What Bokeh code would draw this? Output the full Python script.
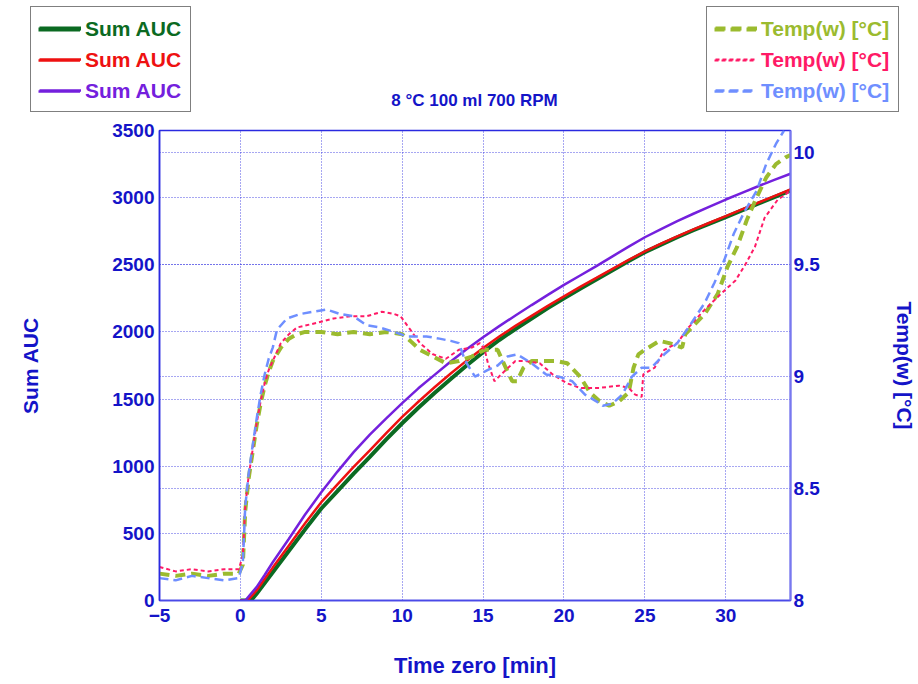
from bokeh.plotting import figure
from bokeh.models import Range1d, LinearAxis, Grid, FixedTicker, Legend, LegendItem, Label
from bokeh.layouts import column, row
from bokeh.core.properties import value
from bokeh.embed import file_html
from bokeh.resources import INLINE

# ---------------- data ----------------
x_ticks = [-5, 0, 5, 10, 15, 20, 25, 30]
auc_ticks = [0, 500, 1000, 1500, 2000, 2500, 3000, 3500]
temp_ticks = [8, 8.5, 9, 9.5, 10]
temp_tick_labels = {8: "8", 8.5: "8.5", 9: "9", 9.5: "9.5", 10: "10"}

auc_green_t = [0, 0.65, 1, 1.5, 2, 3, 4, 5, 6, 7, 8, 9, 10, 11, 12, 13, 14, 15, 16, 17, 18, 19, 20,
               21, 22, 23, 24, 25, 26, 27, 28, 29, 30, 31, 32, 33, 34]
auc_green_v = [0, 0, 50, 130, 210, 370, 530, 685, 815, 945, 1070, 1198, 1320, 1435, 1545, 1650,
               1752, 1849, 1940, 2022, 2100, 2177, 2250, 2322, 2390, 2460, 2528, 2594, 2650, 2705,
               2757, 2807, 2855, 2905, 2955, 3004, 3053]

auc_red_t = [0, 0.45, 1, 1.5, 2, 3, 4, 5, 6, 7, 8, 9, 10, 11, 12, 13, 14, 15, 16, 17, 18, 19, 20,
             21, 22, 23, 24, 25, 26, 27, 28, 29, 30, 31, 32, 33, 34]
auc_red_v = [0, 0, 75, 160, 245, 410, 575, 732, 865, 995, 1118, 1245, 1368, 1480, 1588, 1690,
             1788, 1880, 1966, 2045, 2120, 2194, 2265, 2335, 2402, 2470, 2536, 2600, 2657, 2711,
             2763, 2813, 2862, 2912, 2962, 3012, 3062]

auc_purple_t = [0, 0.3, 1, 1.5, 2, 3, 4, 5, 6, 7, 8, 9, 10, 11, 12, 13, 14, 15, 16, 17, 18, 19, 20,
                21, 22, 23, 24, 25, 26, 27, 28, 29, 30, 31, 32, 33, 34]
auc_purple_v = [0, 0, 100, 190, 285, 460, 640, 806, 960, 1105, 1235, 1355, 1470, 1580, 1680, 1780,
                1872, 1961, 2043, 2122, 2200, 2276, 2350, 2420, 2490, 2563, 2635, 2705, 2766, 2825,
                2880, 2933, 2986, 3036, 3085, 3132, 3178]

tw_green_t = [-5, -4, -3, -2, -1, -0.1, 0.15, 0.3, 0.5, 0.75, 1.0, 1.25, 1.5, 1.75, 2.0, 2.5, 3.0,
              3.5, 4, 5, 6, 7, 8, 9, 10, 10.5, 11.1, 11.9, 12.7, 13.5, 14.3, 15.1, 15.9, 16.4,
              16.8, 17.1, 17.5, 18.0, 18.9, 19.5, 20.2, 21.0, 21.6, 22.2, 22.8, 23.4, 24.0, 24.3,
              24.6, 25.0, 25.9, 26.5, 27.3, 27.5, 28.7, 29.5, 30.1, 30.7, 31.3, 31.9, 32.5, 33.1,
              33.7, 34]
tw_green_v = [8.12, 8.11, 8.12, 8.11, 8.12, 8.12, 8.16, 8.40, 8.54, 8.66, 8.78, 8.88, 8.96, 9.02,
              9.07, 9.13, 9.17, 9.19, 9.20, 9.20, 9.19, 9.20, 9.19, 9.20, 9.19, 9.16, 9.12, 9.09,
              9.06, 9.07, 9.09, 9.12, 9.12, 9.04, 8.98, 8.98, 9.04, 9.07, 9.07, 9.07, 9.06, 9.00,
              8.93, 8.89, 8.87, 8.89, 8.93, 9.04, 9.10, 9.12, 9.16, 9.15, 9.13, 9.19, 9.28, 9.37,
              9.49, 9.58, 9.70, 9.80, 9.89, 9.95, 9.98, 9.99]

tw_pink_t = [-5, -4, -3, -2, -1, -0.1, 0.15, 0.3, 0.5, 0.75, 1.0, 1.25, 1.5, 1.75, 2.0, 2.5, 3.0,
             3.5, 4.7, 5.76, 6.8, 7.8, 8.74, 9.5, 9.9, 10.5, 11.1, 11.9, 12.7, 13.5, 14.3, 14.8,
             15.1, 15.3, 15.7, 16.4, 17.0, 17.6, 18.5, 19.3, 20.2, 21.0, 21.8, 22.2, 23.4, 24.0,
             24.4, 24.8, 24.9, 25.6, 26.2, 27.0, 27.7, 28.7, 29.7, 30.6, 31.2, 31.8, 32.4, 33.2,
             33.8, 34]
tw_pink_v = [8.15, 8.13, 8.14, 8.13, 8.14, 8.14, 8.20, 8.42, 8.55, 8.67, 8.79, 8.89, 8.97, 9.03,
             9.07, 9.15, 9.19, 9.22, 9.24, 9.26, 9.27, 9.27, 9.29, 9.28, 9.27, 9.21, 9.15, 9.10,
             9.08, 9.12, 9.13, 9.15, 9.12, 9.06, 8.98, 9.03, 9.07, 9.07, 9.06, 9.01, 8.97, 8.95,
             8.95, 8.95, 8.96, 8.95, 8.92, 8.91, 9.01, 9.04, 9.12, 9.15, 9.22, 9.30, 9.37, 9.43,
             9.50, 9.58, 9.71, 9.79, 9.82, 9.84]

tw_blue_t = [-5, -4, -3, -2, -1, -0.1, 0.15, 0.3, 0.5, 0.75, 1.0, 1.25, 1.5, 1.75, 2.0, 2.26, 2.88,
             3.7, 4.5, 5.35, 6.17, 6.99, 7.8, 8.6, 9.5, 10.3, 11.5, 12.3, 13.0, 13.5, 13.9, 14.5,
             15.3, 15.9, 16.5, 17.1, 18.0, 18.9, 19.7, 20.5, 21.3, 22.0, 22.4, 23.0, 23.6, 24.2,
             24.8, 25.4, 26.2, 27.0, 27.7, 28.7, 29.3, 29.9, 30.5, 31.1, 31.9, 32.5, 33.1, 33.6]
tw_blue_v = [8.10, 8.09, 8.11, 8.10, 8.09, 8.10, 8.17, 8.42, 8.56, 8.69, 8.81, 8.92, 9.01, 9.08,
             9.13, 9.21, 9.26, 9.28, 9.29, 9.30, 9.28, 9.27, 9.23, 9.22, 9.20, 9.18, 9.18, 9.17,
             9.16, 9.15, 9.07, 9.00, 9.03, 9.05, 9.09, 9.10, 9.06, 9.01, 9.00, 8.98, 8.92, 8.89,
             8.87, 8.88, 8.92, 9.00, 9.04, 9.04, 9.10, 9.15, 9.22, 9.33, 9.42, 9.52, 9.64, 9.73,
             9.83, 9.95, 10.04, 10.10]

auc_label = "Sum AUC"
temp_label = "Temp(w) [°C]"
x_label = "Time zero [min]"
title_text = "8 °C 100 ml 700 RPM"

# ---------------- styling ----------------
FONT = "Liberation Sans"
TXT = "#1414c8"
C_AUC = ["#0b6a22", "#ee1111", "#7420dd"]
W_AUC = [4, 2.5, 2.5]
C_TMP = ["#9bbb2f", "#ff1a66", "#6f8fff"]
W_TMP = [4, 2, 2.5]
D_TMP = ["10 6", "4 3", "9 5"]

TOP_H = 120

# ---------------- main plot ----------------
p = figure(width=918, height=684 - TOP_H, output_backend="svg", toolbar_location=None,
           x_range=Range1d(-5, 34), y_range=Range1d(0, 3500),
           min_border_left=159, min_border_right=128, min_border_top=130 - TOP_H,
           min_border_bottom=84)
p.extra_y_ranges = {"temp": Range1d(8, 10.1)}
p.background_fill_color = "white"
p.border_fill_color = "white"
p.outline_line_color = "#2a2ae0"
p.outline_line_width = 1.5

right = LinearAxis(y_range_name="temp")
p.add_layout(right, "right")

xa = p.xaxis[0]
ya = p.yaxis[0]
xa.ticker = FixedTicker(ticks=x_ticks)
ya.ticker = FixedTicker(ticks=auc_ticks)
right.ticker = FixedTicker(ticks=temp_ticks)
right.major_label_overrides = temp_tick_labels
xa.axis_label = x_label
ya.axis_label = auc_label
right.axis_label = temp_label

for ax in (xa, ya, right):
    ax.major_label_text_font = FONT
    ax.major_label_text_font_size = "19px"
    ax.major_label_text_font_style = "bold"
    ax.major_label_text_color = TXT
    ax.axis_label_text_font = FONT
    ax.axis_label_text_font_size = "21px"
    ax.axis_label_text_font_style = "bold"
    ax.axis_label_text_color = TXT
    ax.major_tick_in = 0
    ax.major_tick_out = 0
    ax.minor_tick_in = 0
    ax.minor_tick_out = 0
    ax.axis_line_width = 1.5
xa.axis_label_text_font_size = "22px"

xa.axis_line_color = "#4a4ae8"
ya.axis_line_color = "#2a2ae0"
right.axis_line_color = "#7878f0"
right.axis_line_width = 2
xa.major_label_standoff = 8
xa.axis_label_standoff = 28
ya.major_label_standoff = 5
ya.axis_label_standoff = 67
right.major_label_standoff = 3
right.axis_label_standoff = 70

GRID_C = "#3030e0"
for g in (p.xgrid[0], p.ygrid[0]):
    g.grid_line_color = GRID_C
    g.grid_line_dash = "1 2"
    g.grid_line_width = 1
    g.grid_line_alpha = 0.85
g2 = Grid(dimension=1, ticker=FixedTicker(ticks=temp_ticks), y_range_name="temp",
          grid_line_color=GRID_C, grid_line_dash="1 2", grid_line_width=1, grid_line_alpha=0.85)
p.add_layout(g2)

p.line(auc_green_t, auc_green_v, line_color=C_AUC[0], line_width=W_AUC[0])
p.line(auc_red_t, auc_red_v, line_color=C_AUC[1], line_width=W_AUC[1])
p.line(auc_purple_t, auc_purple_v, line_color=C_AUC[2], line_width=W_AUC[2])

for (tt, vv), c, w, d in zip(((tw_green_t, tw_green_v), (tw_pink_t, tw_pink_v), (tw_blue_t, tw_blue_v)),
                             C_TMP, W_TMP, D_TMP):
    p.line(tt, vv, y_range_name="temp", line_color=c, line_width=w, line_dash=d)

# ---------------- header strip: legends + title ----------------
top = figure(width=918, height=TOP_H, output_backend="svg", toolbar_location=None,
             x_range=Range1d(0, 918), y_range=Range1d(0, TOP_H),
             min_border=0, x_axis_location=None, y_axis_location=None)
top.outline_line_color = None
top.xgrid.visible = False
top.ygrid.visible = False
top.background_fill_color = "white"
top.border_fill_color = "white"

NAN = [float("nan")]
# key-only renderers for the legend swatches (they draw nothing themselves)
k_auc = [top.line(NAN, NAN, line_color=c, line_width=w) for c, w in zip(C_AUC, W_AUC)]
k_tmp = [top.line(NAN, NAN, line_color=c, line_width=w, line_dash=d)
         for c, w, d in zip(C_TMP, W_TMP, D_TMP)]


def style_legend(lg, color=None, boxed=False):
    lg.label_text_font = FONT
    lg.label_text_font_size = "21px"
    lg.label_text_font_style = "bold"
    lg.padding = 8
    lg.spacing = 5
    lg.margin = 0
    lg.glyph_width = 42
    lg.glyph_height = 26
    lg.label_height = 26
    lg.label_standoff = 5
    if boxed:
        lg.border_line_color = "black"
        lg.border_line_width = 1.5
        lg.background_fill_color = "white"
        lg.background_fill_alpha = 1
        lg.label_text_alpha = 0
    else:
        lg.border_line_alpha = 0
        lg.background_fill_alpha = 0
        lg.label_text_color = color


box_bottom = TOP_H - 112
item_bottoms = [box_bottom + 62, box_bottom + 31, box_bottom]

for x0, rends, lab, cols in ((30, k_auc, auc_label, C_AUC), (706, k_tmp, temp_label, C_TMP)):
    big = Legend(items=[LegendItem(label=value(lab), renderers=[r]) for r in rends],
                 location=(x0, box_bottom))
    style_legend(big, boxed=True)
    top.add_layout(big)
    for i, (r, c) in enumerate(zip(rends, cols)):
        lg = Legend(items=[LegendItem(label=value(lab), renderers=[r])],
                    location=(x0, item_bottoms[i]))
        style_legend(lg, color=c)
        top.add_layout(lg)

top.add_layout(Label(x=474, y=TOP_H - 100, x_units="screen", y_units="screen",
                     text=title_text, text_align="center", text_baseline="middle",
                     text_font=FONT, text_font_size="17px", text_font_style="bold",
                     text_color=TXT))

layout = column(row(top), p, spacing=0)
open("out.html", "w").write(file_html(layout, INLINE))
